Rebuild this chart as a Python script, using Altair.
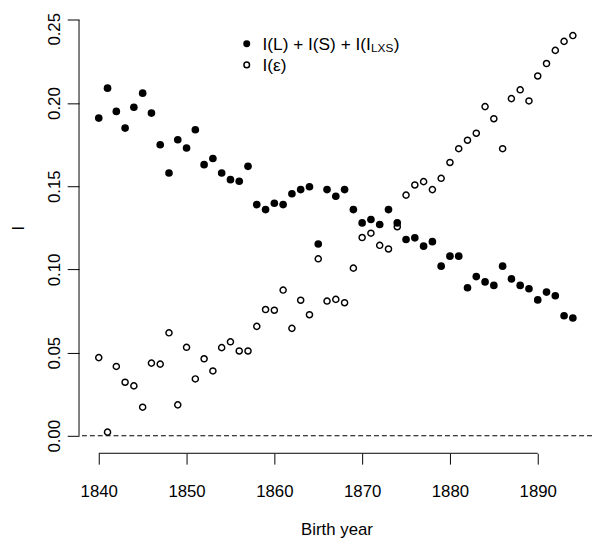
import altair as alt
import pandas as pd

# ---- data ----
years = list(range(1840, 1895))
info_sum = [0.191, 0.209, 0.195, 0.185, 0.1975, 0.206, 0.194, 0.175, 0.158, 0.178,
            0.173, 0.184, 0.163, 0.1667, 0.158, 0.154, 0.153, 0.162, 0.139, 0.136,
            0.1398, 0.139, 0.1455, 0.148, 0.1497, 0.1153, 0.148, 0.144, 0.148, 0.136,
            0.128, 0.130, 0.127, 0.136, 0.128, 0.118, 0.119, 0.114, 0.1167, 0.102,
            0.108, 0.108, 0.089, 0.0957, 0.0925, 0.0904, 0.102, 0.0943, 0.0904, 0.0884,
            0.0817, 0.0864, 0.0842, 0.0722, 0.0708]
info_eps = [0.047, 0.0022, 0.0417, 0.0322, 0.030, 0.0172, 0.0437, 0.0431, 0.0619, 0.0186,
            0.0532, 0.0342, 0.0463, 0.039, 0.053, 0.0565, 0.051, 0.051, 0.0658, 0.0759,
            0.0755, 0.0876, 0.0646, 0.0815, 0.0728, 0.1064, 0.081, 0.082, 0.080, 0.1008,
            0.1192, 0.1218, 0.1145, 0.1123, 0.1257, 0.1447, 0.1508, 0.1528, 0.148, 0.1548,
            0.1643, 0.1726, 0.1777, 0.1819, 0.1979, 0.1906, 0.1726, 0.2027, 0.208, 0.2013,
            0.2163, 0.2238, 0.2317, 0.2371, 0.2406]
x_ticks = [1840, 1850, 1860, 1870, 1880, 1890]
y_ticks = [0.0, 0.05, 0.10, 0.15, 0.20, 0.25]
ref_line = [0.0]
legend_main = "I(L) + I(S) + I(I"
legend_sub = "LXS"
legend_close = ")"
legend_eps = "I(ε)"
x_title = "Birth year"
y_title = "I"

# ---- layout ----
W, H = 520, 447.7
xdom = [1837.753, 1896.18]
ydom = [-0.0105, 0.255]
FONT = "Liberation Sans, Arial, sans-serif"

df = pd.DataFrame({"year": years, "sum": info_sum, "eps": info_eps})
xs = alt.Scale(domain=xdom, nice=False, zero=False)
ys = alt.Scale(domain=ydom, nice=False, zero=False)

xaxis = alt.Axis(values=x_ticks, format="d", domain=False, grid=False,
                 tickSize=11, tickColor="black", tickWidth=1,
                 labelFont=FONT, labelFontSize=17, labelColor="black",
                 labelPadding=33, labelBaseline="alphabetic", labelAlign="center",
                 labelFlush=False, labelOverlap=False,
                 title=x_title, titleFont=FONT, titleFontSize=17,
                 titleFontWeight="normal", titleColor="black",
                 titleX=261, titleY=82, titleBaseline="alphabetic", titleAlign="center")
yaxis = alt.Axis(values=y_ticks, format=".2f", domain=False, grid=False,
                 tickSize=12, tickColor="black", tickWidth=1,
                 labelFont=FONT, labelFontSize=17, labelColor="black",
                 labelAngle=270, labelAlign="center", labelBaseline="alphabetic",
                 labelPadding=8, labelFlush=False, labelOverlap=False,
                 labelOffset={"condition": {"test": "datum.value >= 0.25", "value": 9}, "value": 0},
                 title=y_title, titleFont=FONT, titleFontSize=17,
                 titleFontWeight="normal", titleColor="black", titleAngle=270,
                 titleX=-56, titleY=219, titleBaseline="alphabetic", titleAlign="center")

filled_pts = alt.Chart(df).mark_point(filled=True, shape="circle", size=60,
                                      color="black", opacity=1).encode(
    x=alt.X("year:Q", scale=xs, axis=xaxis),
    y=alt.Y("sum:Q", scale=ys, axis=yaxis),
)
open_pts = alt.Chart(df).mark_point(filled=False, shape="circle", size=38,
                                    strokeWidth=1.5, color="black", opacity=1).encode(
    x=alt.X("year:Q", scale=xs),
    y=alt.Y("eps:Q", scale=ys),
)

hline = alt.Chart(pd.DataFrame({"y": ref_line})).mark_rule(
    strokeDash=[5, 3], color="black", strokeWidth=1.1).encode(
    y=alt.Y("y:Q", scale=ys))

xline = alt.Chart(pd.DataFrame({"x": [x_ticks[0]], "x2": [x_ticks[-1]], "y": [ydom[0]]})).mark_rule(
    color="black", strokeWidth=1).encode(
    x=alt.X("x:Q", scale=xs), x2="x2:Q", y=alt.Y("y:Q", scale=ys))
yline = alt.Chart(pd.DataFrame({"x": [xdom[0]], "y": [y_ticks[0]], "y2": [y_ticks[-1]]})).mark_rule(
    color="black", strokeWidth=1).encode(
    x=alt.X("x:Q", scale=xs), y=alt.Y("y:Q", scale=ys), y2="y2:Q")

one = pd.DataFrame({"k": [0]})
leg_dot1 = alt.Chart(one).mark_point(filled=True, shape="circle", size=50,
                                     color="black", opacity=1).encode(
    x=alt.value(170), y=alt.value(32.5))
leg_dot2 = alt.Chart(one).mark_point(filled=False, shape="circle", size=32,
                                     strokeWidth=1.5, color="black", opacity=1).encode(
    x=alt.value(170), y=alt.value(54))


def txt(s, x, y, size):
    return alt.Chart(pd.DataFrame({"t": [s]})).mark_text(
        font=FONT, fontSize=size, color="black", align="left",
        baseline="alphabetic").encode(text="t:N", x=alt.value(x), y=alt.value(y))


leg1 = txt(legend_main, 186, 39, 17.5)
leg1s = txt(legend_sub, 296, 41, 12)
leg1c = txt(legend_close, 319, 39, 17.5)
leg2 = txt(legend_eps, 186, 60, 17.5)

chart = alt.layer(
    filled_pts, open_pts, hline, xline, yline,
    leg_dot1, leg_dot2, leg1, leg1s, leg1c, leg2,
).properties(
    width=W, height=H,
    padding={"left": 72, "top": 0, "right": 0, "bottom": 89},
    autosize=alt.AutoSizeParams(type="none"),
    background="white",
).configure_view(stroke=None)

chart.save("out.html", embed_options={"renderer": "svg", "actions": False})
